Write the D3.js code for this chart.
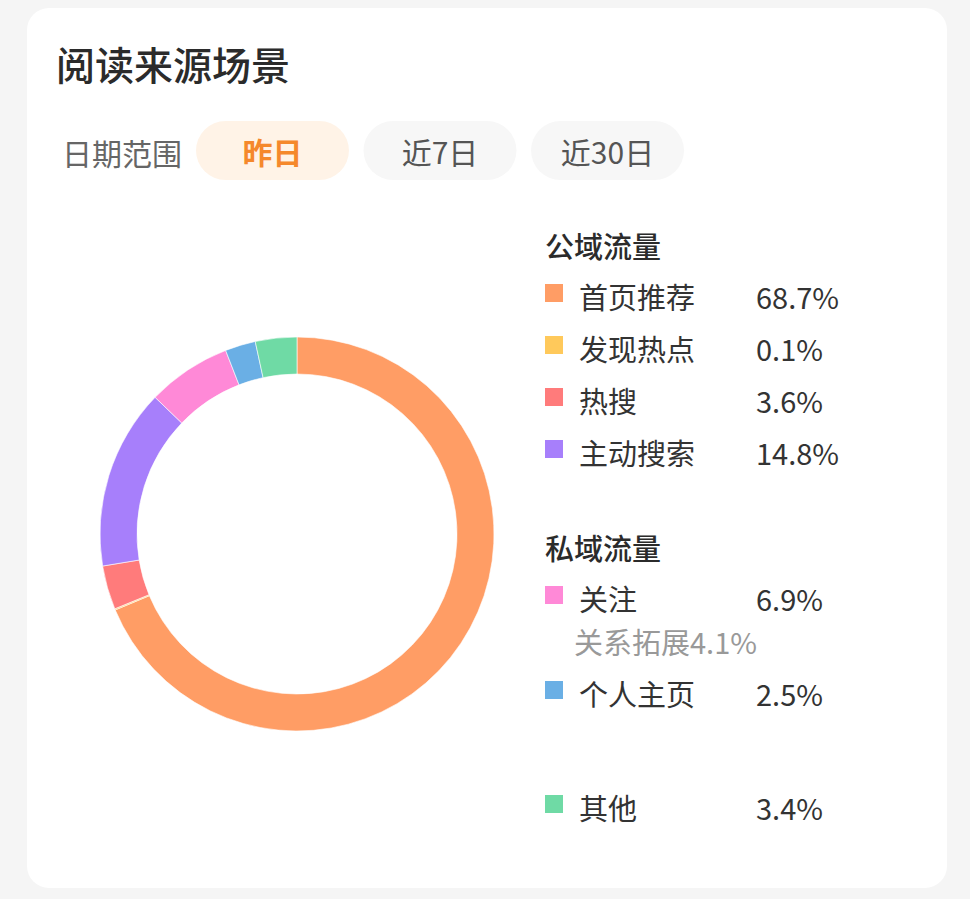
<!DOCTYPE html>
<html>
<head>
<meta charset="utf-8">
<script src="https://cdn.jsdelivr.net/npm/d3@7"></script>
<style>
  body { margin: 0; background: #f5f5f5; }
  svg { display: block; font-family: "Noto Sans CJK SC", "Noto Sans", sans-serif; }
</style>
</head>
<body>
<svg class="chart"></svg>
<script>
const title = '阅读来源场景';
const rangeLabel = '日期范围';
const dateOptions = ['昨日', '近7日', '近30日'];
const activeOption = '昨日';

const categories = ['首页推荐', '发现热点', '热搜', '主动搜索', '关注', '个人主页', '其他'];
const values = [68.7, 0.1, 3.6, 14.8, 6.9, 2.5, 3.4];
const groups = ['公域流量', '公域流量', '公域流量', '公域流量', '私域流量', '私域流量', ''];
const colors = ['#ff9d65', '#ffc95b', '#ff7b7b', '#a77ffb', '#ff89d7', '#6aafe5', '#6fdaa5'];
const subLabels = { '关注': '关系拓展4.1%' };

const width = 970, height = 899;

const svg = d3.select('.chart')
    .attr('width', width)
    .attr('height', height);

// card
svg.append('rect')
    .attr('x', 27).attr('y', 8)
    .attr('width', 920).attr('height', 880)
    .attr('rx', 22)
    .attr('fill', '#fff');

svg.append('text')
    .attr('x', 56).attr('y', 63)
    .attr('dominant-baseline', 'central')
    .attr('font-size', 39)
    .attr('font-weight', 500)
    .attr('fill', '#2b2b2b')
    .text(title);

svg.append('text')
    .attr('x', 62).attr('y', 152)
    .attr('dominant-baseline', 'central')
    .attr('font-size', 30)
    .attr('fill', '#666')
    .text(rangeLabel);

// date pills
const pillX = d3.scaleBand()
    .domain(dateOptions)
    .range([196, 684])
    .paddingInner(0.087);

const pills = svg.selectAll('.pill')
    .data(dateOptions)
    .enter().append('g')
    .attr('class', 'pill')
    .attr('transform', d => `translate(${pillX(d)},121)`);

pills.append('rect')
    .attr('width', pillX.bandwidth())
    .attr('height', 59)
    .attr('rx', 29.5)
    .attr('fill', d => d === activeOption ? '#fff3e7' : '#f7f7f7');

pills.append('text')
    .attr('x', pillX.bandwidth() / 2)
    .attr('y', 30)
    .attr('text-anchor', 'middle')
    .attr('dominant-baseline', 'central')
    .attr('font-size', 30)
    .attr('font-weight', d => d === activeOption ? 600 : 400)
    .attr('fill', d => d === activeOption ? '#f5882c' : '#555')
    .text(d => d);

// donut
const data = categories.map((c, i) => ({ name: c, value: values[i], color: colors[i], group: groups[i] }));

const pie = d3.pie()
    .sort(null)
    .value(d => d.value);

const arc = d3.arc()
    .outerRadius(197)
    .innerRadius(160);

const donut = svg.append('g')
    .attr('transform', 'translate(297,534)');

donut.selectAll('path')
    .data(pie(data))
    .enter().append('path')
    .attr('d', arc)
    .attr('fill', d => d.data.color)
    .attr('stroke', '#fff')
    .attr('stroke-width', 0.6);

// legend rows
const rows = [];
let prevGroup = null;
data.forEach(d => {
    if (d.group !== prevGroup) {
        if (d.group) rows.push({ type: 'head', text: d.group, gap: prevGroup ? 95 : 0 });
        else rows.push({ type: 'item', d, gap: 114 });
        prevGroup = d.group;
        if (!d.group) return;
    }
    rows.push({ type: 'item', d, gap: rows[rows.length - 1].type === 'head' ? 51 : 52 });
    if (subLabels[d.name]) rows.push({ type: 'sub', text: subLabels[d.name], gap: 43 });
});

let y = 245;
rows.forEach((r, i) => { if (i > 0) y += r.gap; r.y = y; });

const legend = svg.append('g');

rows.forEach(r => {
    if (r.type === 'head') {
        legend.append('text')
            .attr('x', 545).attr('y', r.y)
            .attr('dominant-baseline', 'central')
            .attr('font-size', 29)
            .attr('font-weight', 500)
            .attr('fill', '#2b2b2b')
            .text(r.text);
    } else if (r.type === 'sub') {
        legend.append('text')
            .attr('x', 574).attr('y', r.y)
            .attr('dominant-baseline', 'central')
            .attr('font-size', 29)
            .attr('fill', '#999')
            .text(r.text);
    } else {
        legend.append('rect')
            .attr('x', 545).attr('y', r.y - 12)
            .attr('width', 18).attr('height', 18)
            .attr('fill', r.d.color);
        legend.append('text')
            .attr('x', 579).attr('y', r.y)
            .attr('dominant-baseline', 'central')
            .attr('font-size', 29)
            .attr('fill', '#333')
            .text(r.d.name);
        legend.append('text')
            .attr('x', 756).attr('y', r.y)
            .attr('dominant-baseline', 'central')
            .attr('font-size', 29)
            .attr('fill', '#333')
            .text(r.d.value + '%');
    }
});
</script>
</body>
</html>
